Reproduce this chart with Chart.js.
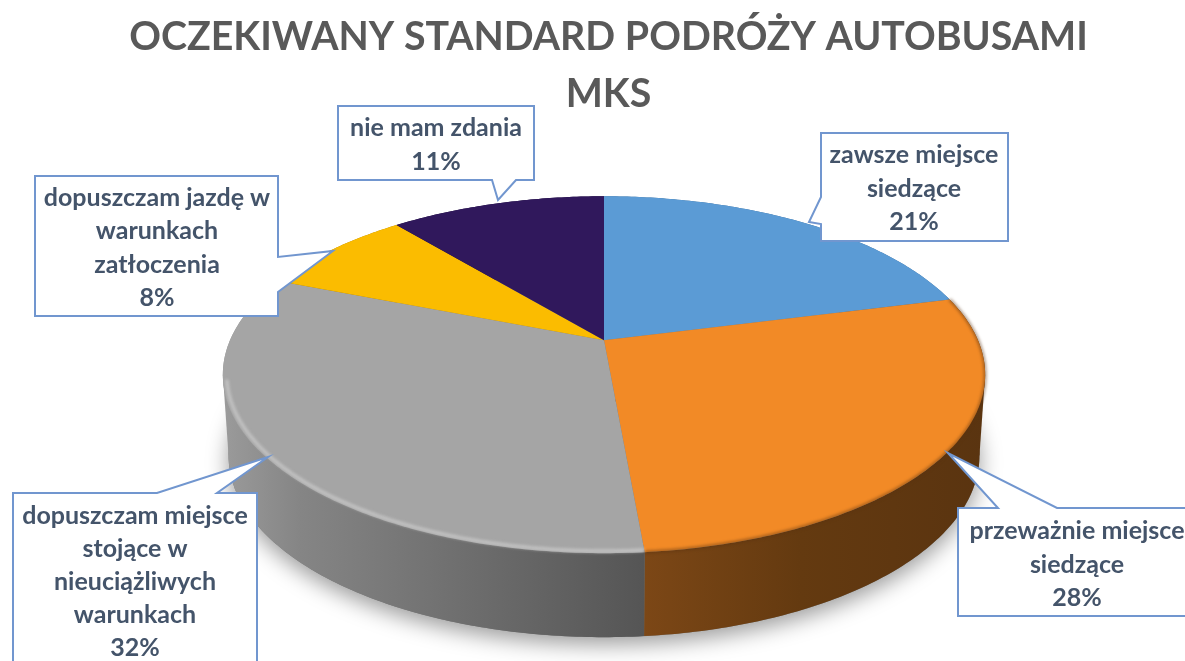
<!DOCTYPE html>
<html><head><meta charset="utf-8">
<style>html,body{margin:0;padding:0;background:#fff}canvas{display:block;filter:blur(0.6px)}</style>
<script src="https://cdn.jsdelivr.net/npm/chart.js@4/dist/chart.umd.min.js"></script>
</head><body><canvas id="c" width="1185" height="661"></canvas>
<script>
const titleLines = ["OCZEKIWANY STANDARD PODRÓŻY AUTOBUSAMI", "MKS"];
const categories = ["zawsze miejsce siedzące","przeważnie miejsce siedzące","dopuszczam miejsce stojące w nieuciążliwych warunkach","dopuszczam jazdę w warunkach zatłoczenia","nie mam zdania"];
const values = [21, 27.6, 32.4, 8, 11];
const percentLabels = ["21%","28%","32%","8%","11%"];
const colors = ["#5b9bd5","#f28a26","#a5a5a5","#fbbc00","#30185c"];
const labelLines = [["zawsze miejsce","siedzące"],["przeważnie miejsce","siedzące"],["dopuszczam miejsce","stojące w","nieuciążliwych","warunkach"],["dopuszczam jazdę w","warunkach","zatłoczenia"],["nie mam zdania"]];

// callout geometry: outline polygon, text centre, first line middle, line step
const callouts = [
 {p:[[821,133],[1008,133],[1008,241],[821,241],[821,224],[809,222],[821,197]],tx:914,ty:155,step:33.5},
 {p:[[958,508],[998,508],[948,453],[1057,508],[1200,508],[1200,616],[958,616]],tx:1077,ty:531,step:33.5},
 {p:[[13,493],[157,493],[268,457],[217,493],[257,493],[257,672],[13,672]],tx:135,ty:516,step:33},
 {p:[[35,176],[278,176],[278,257],[333,251],[278,292],[278,316],[35,316]],tx:157,ty:198,step:33.3},
 {p:[[338,106],[534,106],[534,180],[516,180],[498,200],[492,180],[338,180]],tx:436,ty:128,step:34}
];
// perspective of the tilted disc
const K=0.193, RX=374, RY=171.8, DX=-4.5;
function topPt(el,a,s=1){const u=Math.cos(a),v=Math.sin(a),d=1-K*v;
  return [el.x+DX+s*RX*u/d, el.y+s*RY*v/d];}
function botPt(el,a){const u=Math.cos(a),v=Math.sin(a),d=1-K*v;
  return [el.x+DX+0.985*RX*u/d, el.y+RY*v/d+80+4*v];}
function trace(ctx,el,a0,a1,fn,first){const n=Math.max(2,Math.ceil(Math.abs(a1-a0)*80));
  for(let i=0;i<=n;i++){const p=fn(el,a0+(a1-a0)*i/n);
    if(i===0&&first)ctx.moveTo(p[0],p[1]);else ctx.lineTo(p[0],p[1]);}}
const sideStops={
 1:[[644,"#7c4716"],[800,"#643a10"],[985,"#5a3410"]],
 2:[[225,"#9a9a9a"],[300,"#858585"],[644,"#555555"]],
 0:[[800,"#3a6a96"],[985,"#3a6a96"]],3:[[225,"#a07800"],[400,"#a07800"]],4:[[400,"#1c0e38"],[600,"#1c0e38"]]
};
const pie3d={id:'pie3d',
 beforeDatasetDraw(chart,args){
  const ctx=chart.ctx,arcs=args.meta.data,el=arcs[0];
  const grad=i=>{const g=ctx.createLinearGradient(200,0,1000,0);
    sideStops[i].forEach(s=>g.addColorStop((s[0]-200)/800,s[1]));return g;};
  const ext=Math.asin(K);
  // soft shadow
  ctx.save();ctx.shadowColor='rgba(0,0,0,0.4)';ctx.shadowBlur=22;ctx.shadowOffsetY=7;ctx.fillStyle='#777';
  ctx.beginPath();trace(ctx,el,0,Math.PI*2,botPt,true);ctx.closePath();ctx.fill();ctx.restore();
  // side walls
  arcs.forEach((a,i)=>{
    ctx.fillStyle=grad(i);ctx.beginPath();
    trace(ctx,el,a.startAngle,a.endAngle,topPt,true);
    trace(ctx,el,a.endAngle,a.startAngle,botPt,false);
    ctx.closePath();ctx.fill();
  });
  // silhouette between the extreme left and right points of the two discs
  [[2,Math.PI-ext],[1,ext]].forEach(([i,a])=>{
    const t=topPt(el,a),b=botPt(el,a);ctx.fillStyle=grad(i);ctx.beginPath();
    ctx.moveTo(t[0],t[1]);ctx.lineTo(b[0],b[1]);ctx.lineTo(el.x+DX,el.y+60);ctx.closePath();ctx.fill();
  });
  // top face
  arcs.forEach(a=>{
    ctx.fillStyle=a.options.backgroundColor;ctx.beginPath();ctx.moveTo(el.x+DX,el.y);
    trace(ctx,el,a.startAngle,a.endAngle,topPt,false);ctx.closePath();ctx.fill();
  });
  // rim bevel
  const g=arcs[2],o=arcs[1];
  ctx.save();ctx.filter='blur(1.6px)';ctx.lineWidth=3.5;ctx.strokeStyle='rgba(215,215,215,0.6)';
  ctx.beginPath();trace(ctx,el,g.startAngle,g.endAngle-0.6,(e,a)=>topPt(e,a,0.99),true);ctx.stroke();
  ctx.strokeStyle='rgba(90,50,15,0.5)';ctx.lineWidth=3;
  ctx.beginPath();trace(ctx,el,o.startAngle,o.endAngle,(e,a)=>topPt(e,a,1),true);ctx.stroke();
  ctx.restore();
  return false;
 },
 afterDatasetsDraw(chart){
  const ctx=chart.ctx;ctx.save();
  callouts.forEach((c,i)=>{
    ctx.beginPath();c.p.forEach((q,j)=>j?ctx.lineTo(q[0],q[1]):ctx.moveTo(q[0],q[1]));ctx.closePath();
    ctx.fillStyle='#fff';ctx.fill();ctx.strokeStyle='#7196cf';ctx.lineWidth=2;ctx.stroke();
    ctx.fillStyle='#44546a';ctx.font='bold 25px Lato';ctx.textAlign='center';ctx.textBaseline='middle';
    labelLines[i].concat(percentLabels[i]).forEach((t,j)=>ctx.fillText(t,c.tx,c.ty+j*c.step));
  });
  ctx.restore();
 }
};
window.ch=new Chart(document.getElementById('c'),{
 type:'pie',
 data:{labels:categories,datasets:[{data:values,backgroundColor:colors,borderWidth:0}]},
 options:{responsive:false,animation:false,
  layout:{padding:{left:32,right:0,top:0,bottom:104}},
  plugins:{legend:{display:false},tooltip:{enabled:false},
   title:{display:true,text:titleLines,color:'#595959',font:{family:'Lato',size:39.3,weight:'bold',lineHeight:1.47},padding:{top:8,bottom:0}}}
 },
 plugins:[pie3d]
});
</script></body></html>
